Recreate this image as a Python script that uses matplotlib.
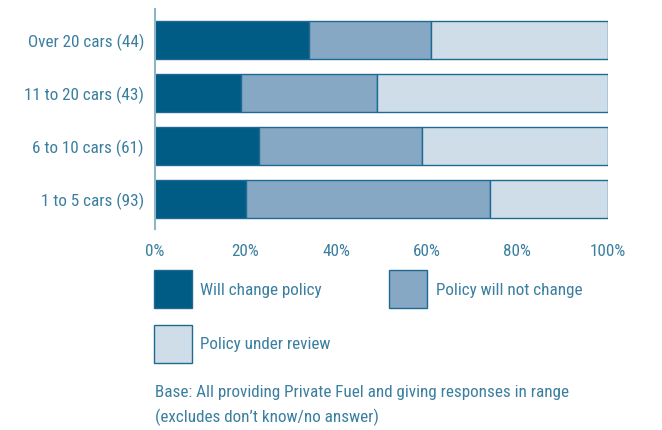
import matplotlib.pyplot as plt
from matplotlib.patches import Rectangle
from matplotlib import font_manager

groups = ['1 to 5 cars (93)', '6 to 10 cars (61)', '11 to 20 cars (43)', 'Over 20 cars (44)']
will_change = [20, 23, 19, 34]
will_not_change = [54, 36, 30, 27]
under_review = [26, 41, 51, 39]
series_names = ['Will change policy', 'Policy will not change', 'Policy under review']
xticks = [0, 20, 40, 60, 80, 100]
base_note = ['Base: All providing Private Fuel and giving responses in range',
             '(excludes don\u2019t know/no answer)']

dark = '#005b85'
mid = '#86a8c4'
light = '#cfdde8'
edge = '#1f6a92'
txt = '#3a7fa0'

# pick a narrow face if one is installed
names = {f.name for f in font_manager.fontManager.ttflist}
family = 'DejaVu Sans'
for cand in ['Liberation Sans Narrow', 'DejaVu Sans Condensed', 'Roboto Condensed', 'Roboto']:
    if cand in names:
        family = cand
        break
plt.rcParams['font.family'] = [family, 'DejaVu Sans']

fig = plt.figure(figsize=(6.62, 4.30), dpi=100)
W, H = 662, 430

# size the text so the base note is about 414 px wide
probe = fig.text(0, 0, base_note[0], fontsize=12)
fig.canvas.draw()
fs = 12 * 414 / probe.get_window_extent().width
probe.remove()
print(family, fs)

ax = fig.add_axes([155 / W, 1 - 229 / H, 453 / W, 220 / H])

y = list(range(len(groups)))
left3 = [a + b for a, b in zip(will_change, will_not_change)]
ax.barh(y, will_change, height=0.72, color=dark, edgecolor=edge, linewidth=1)
ax.barh(y, will_not_change, left=will_change, height=0.72, color=mid, edgecolor=edge, linewidth=1)
ax.barh(y, under_review, left=left3, height=0.72, color=light, edgecolor=edge, linewidth=1)

ax.set_xlim(0, 100)
ax.set_ylim(-0.566, 3.585)
ax.set_yticks(y)
ax.set_yticklabels(groups)
ax.set_xticks(xticks)
ax.set_xticklabels([f'{t}%' for t in xticks])
ax.tick_params(axis='both', length=0, labelsize=fs, colors=txt)
ax.tick_params(axis='y', pad=8)
ax.tick_params(axis='x', pad=11)
for s in ['top', 'right', 'bottom']:
    ax.spines[s].set_visible(False)
ax.spines['left'].set_color('#8fb3c9')
ax.spines['left'].set_linewidth(1.5)

# legend boxes drawn by hand, in pixel positions of the figure
legend_pos = [(154, 270, 200), (389, 270, 436), (154, 325, 200)]
for (x0, y0, tx), c, name in zip(legend_pos, [dark, mid, light], series_names):
    fig.patches.append(Rectangle((x0 / W, 1 - (y0 + 38) / H), 38 / W, 38 / H,
                                 transform=fig.transFigure, facecolor=c,
                                 edgecolor=edge, linewidth=1))
    fig.text(tx / W, 1 - (y0 + 20) / H, name, color=txt, fontsize=fs, va='center', ha='left')

fig.text(155 / W, 1 - 392 / H, base_note[0], color=txt, fontsize=fs, va='center', ha='left')
fig.text(155 / W, 1 - 417 / H, base_note[1], color=txt, fontsize=fs, va='center', ha='left')

fig.savefig('out.png', dpi=100)
